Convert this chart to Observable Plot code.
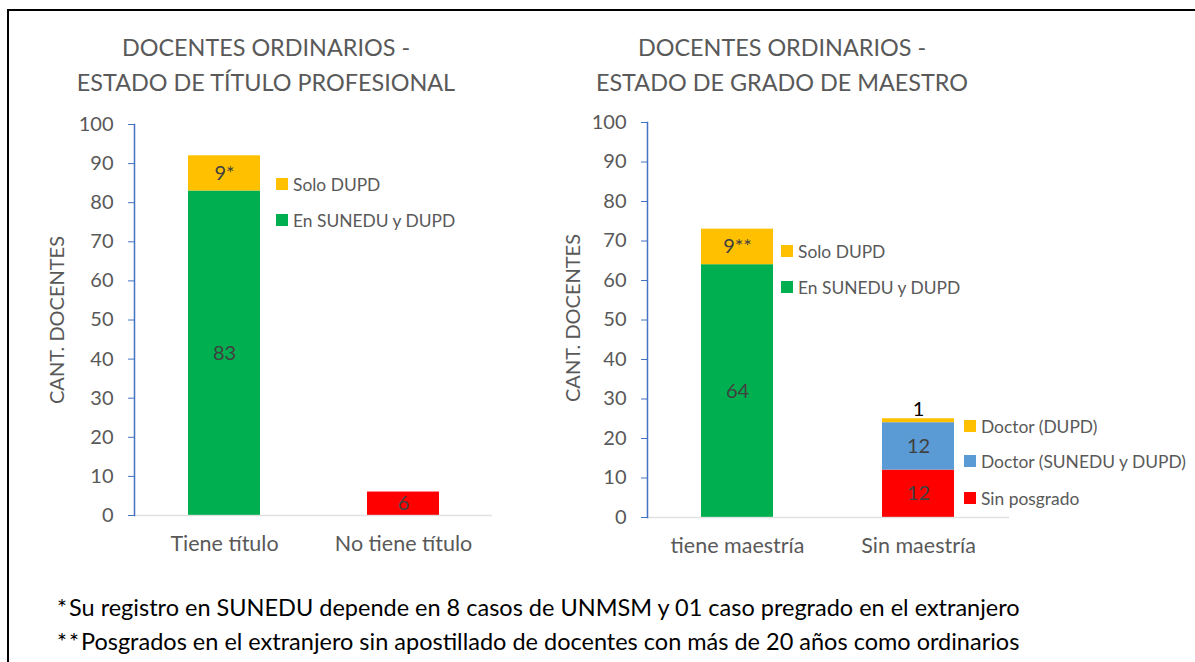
<!DOCTYPE html>
<html><head><meta charset="utf-8">
<script src="https://cdn.jsdelivr.net/npm/d3@7"></script>
<script src="https://cdn.jsdelivr.net/npm/@observablehq/plot@0.6"></script>
<style>
body{margin:0;background:#fff;font-family:Lato,"Open Sans",sans-serif;}
#root{position:relative;width:1195px;height:662px;overflow:hidden;background:#fff;}
#frame{position:absolute;left:7px;top:9px;width:1300px;height:800px;border-top:2px solid #000;border-left:2px solid #000;box-sizing:border-box;}
.title{position:absolute;color:#595959;font-size:23.4px;text-align:center;line-height:35px;width:460px;white-space:nowrap;}
.chart{position:absolute;}
.ylab{position:absolute;color:#595959;font-size:20px;white-space:nowrap;transform:translate(-50%,-50%) rotate(-90deg);}
.item{position:absolute;white-space:nowrap;display:flex;align-items:center;height:20px;color:#595959;font-size:17.4px;}
.sw{display:inline-block;width:12px;height:12px;margin-right:5px;}
.note{position:absolute;left:57px;color:#000;font-size:23.5px;white-space:nowrap;line-height:28px;}
.note .ast{letter-spacing:2px;}
</style>
</head><body>
<div id="root">
  <div id="frame"></div>
</div>
<script>
// ---------- data ----------
const yTicks = [0, 10, 20, 30, 40, 50, 60, 70, 80, 90, 100];

const leftTitle = ["DOCENTES ORDINARIOS -", "ESTADO DE TÍTULO PROFESIONAL"];
const leftCategories = ["Tiene título", "No tiene título"];
const leftRowCategory = ["Tiene título", "Tiene título", "No tiene título"];
const leftSeries = ["En SUNEDU y DUPD", "Solo DUPD", "Sin título"];
const leftValues = [83, 9, 6];
const leftLabels = ["83", "9*", "6"];
const leftLabelPlace = ["mid", "mid", "mid"];
const leftColors = ["#00B050", "#FFC000", "#FF0000"];
const leftLegend = ["Solo DUPD", "En SUNEDU y DUPD"];
const leftLegendColors = ["#FFC000", "#00B050"];

const rightTitle = ["DOCENTES ORDINARIOS -", "ESTADO DE GRADO DE MAESTRO"];
const rightCategories = ["tiene maestría", "Sin maestría"];
const rightRowCategory = ["tiene maestría", "tiene maestría", "Sin maestría", "Sin maestría", "Sin maestría"];
const rightSeries = ["En SUNEDU y DUPD", "Solo DUPD", "Sin posgrado", "Doctor (SUNEDU y DUPD)", "Doctor (DUPD)"];
const rightValues = [64, 9, 12, 12, 1];
const rightLabels = ["64", "9**", "12", "12", "1"];
const rightLabelPlace = ["mid", "mid", "mid", "mid", "top"];
const rightColors = ["#00B050", "#FFC000", "#FF0000", "#5B9BD5", "#FFC000"];
const rightLegendA = ["Solo DUPD", "En SUNEDU y DUPD"];
const rightLegendAColors = ["#FFC000", "#00B050"];
const rightLegendB = ["Doctor (DUPD)", "Doctor (SUNEDU y DUPD)", "Sin posgrado"];
const rightLegendBColors = ["#FFC000", "#5B9BD5", "#FF0000"];

const yLabel = "CANT. DOCENTES";
const noteMarks = ["*", "**"];
const notes = [
  "Su registro en SUNEDU depende en 8 casos de UNMSM y 01 caso pregrado en el extranjero",
  "Posgrados en el extranjero sin apostillado de docentes con más de 20 años como ordinarios"
];

// ---------- build ----------
function rowsOf(cats, series, values, labels, places, colors) {
  return values.map((v, i) => ({cat: cats[i], series: series[i], value: v, label: labels[i], place: places[i], color: colors[i]}));
}
const leftRows = rowsOf(leftRowCategory, leftSeries, leftValues, leftLabels, leftLabelPlace, leftColors);
const rightRows = rowsOf(rightRowCategory, rightSeries, rightValues, rightLabels, rightLabelPlace, rightColors);

function chart(cats, rows, dims) {
  return Plot.plot({
    width: dims.width, height: dims.height,
    marginLeft: dims.mL, marginRight: dims.mR, marginTop: dims.mT, marginBottom: dims.mB,
    style: {fontFamily: "Lato, 'Open Sans', sans-serif", fontSize: "20px", color: "#595959", background: "transparent", overflow: "visible"},
    x: {domain: cats, type: "band", paddingInner: 0.6, paddingOuter: 0.3, label: null},
    y: {domain: [0, 100], label: null},
    marks: [
      Plot.barY(rows, {x: "cat", y: "value", fill: "color", order: null}),
      Plot.ruleY([0], {stroke: "#D9D9D9", strokeWidth: 1.5, strokeOpacity: 0.8}),
      Plot.text(rows, Plot.stackY({x: "cat", y: "value", order: null, text: d => d.place === "mid" ? d.label : "", fill: "#404040", fontSize: 20})),
      Plot.text(rows, Plot.stackY2({x: "cat", y: "value", order: null, text: d => d.place === "top" ? d.label : "", fill: "#000", fontSize: 20, lineAnchor: "bottom", dy: -3})),
      Plot.axisY({ticks: yTicks, tickSize: 6, tickPadding: 15, stroke: "#4472C4", fill: "#595959", fontSize: 20, label: null, tickFormat: d => String(d)}),
      Plot.axisX({tickSize: 0, tickPadding: 20, fill: "#595959", fontSize: 21.5, label: null}),
      Plot.frame({anchor: "left", stroke: "#4472C4", strokeWidth: 1.5})
    ]
  });
}

const root = document.getElementById("root");
function place(el, left, top) { el.style.left = left + "px"; el.style.top = top + "px"; root.appendChild(el); return el; }

function title(lines, centerX) {
  const d = document.createElement("div");
  d.className = "title";
  d.innerHTML = lines.join("<br>");
  place(d, centerX - 230, 30);
}
function legend(names, colors, x, centers) {
  names.forEach((n, i) => {
    const it = document.createElement("div");
    it.className = "item";
    const sw = document.createElement("span");
    sw.className = "sw"; sw.style.background = colors[i];
    it.appendChild(sw);
    it.appendChild(document.createTextNode(n));
    place(it, x, centers[i] - 10);
  });
}
function ylab(cx, cy) {
  const d = document.createElement("div");
  d.className = "ylab"; d.textContent = yLabel;
  place(d, cx, cy);
}

title(leftTitle, 266);
title(rightTitle, 782);

const c1 = chart(leftCategories, leftRows, {width: 470, height: 450, mL: 94, mR: 18, mT: 14, mB: 45});
c1.classList.add("chart"); place(c1, 40, 110);
const c2 = chart(rightCategories, rightRows, {width: 479, height: 454, mL: 97, mR: 20, mT: 14, mB: 45});
c2.classList.add("chart"); place(c2, 550, 108);

ylab(56, 320);
ylab(572, 318);

legend(leftLegend, leftLegendColors, 276, [184, 220]);
legend(rightLegendA, rightLegendAColors, 781, [251, 287]);
legend(rightLegendB, rightLegendBColors, 964, [426, 461, 498]);

notes.forEach((t, i) => {
  const d = document.createElement("div");
  d.className = "note";
  const a = document.createElement("span");
  a.className = "ast"; a.textContent = noteMarks[i];
  d.appendChild(a);
  d.appendChild(document.createTextNode(t));
  place(d, 57, [593, 627][i]);
});
</script>
</body></html>
